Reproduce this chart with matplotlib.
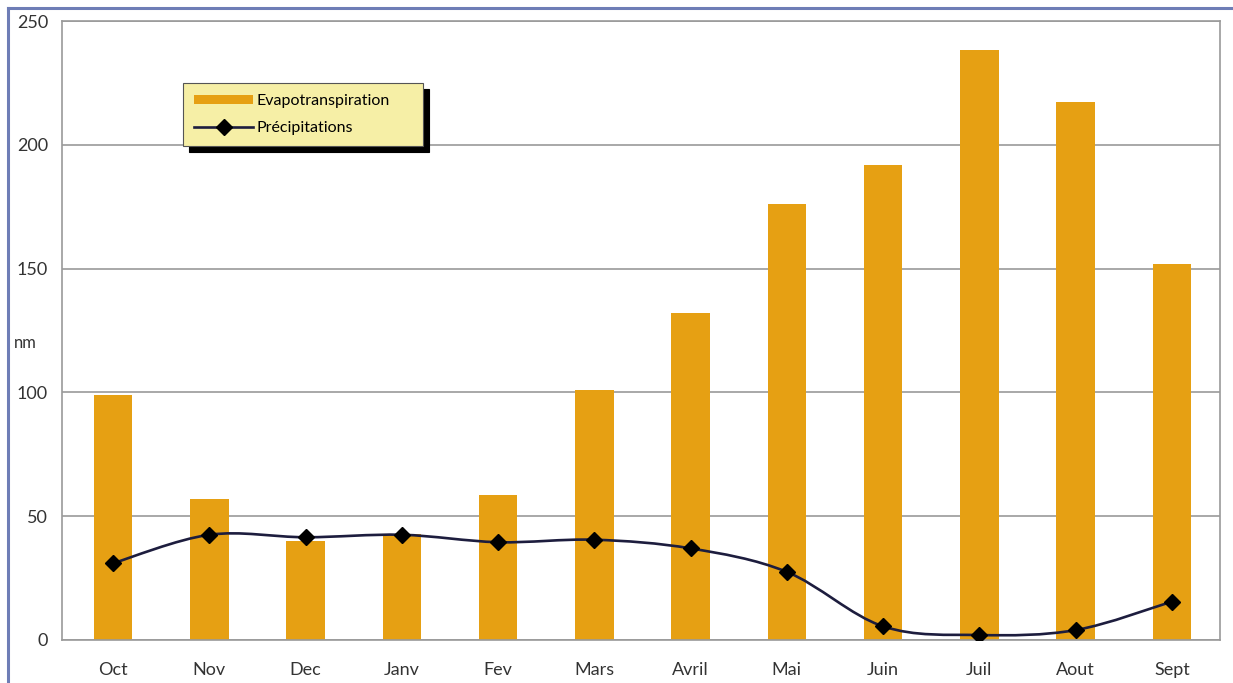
import matplotlib
matplotlib.use("Agg")
import matplotlib.pyplot as plt
from matplotlib.path import Path
from matplotlib.patches import PathPatch, Patch
from matplotlib.lines import Line2D
import numpy as np

plt.rcParams['font.family'] = ['Lato', 'DejaVu Sans']

months = ["Oct", "Nov", "Dec", "Janv", "Fev", "Mars", "Avril", "Mai", "Juin", "Juil", "Aout", "Sept"]
evapo = [99, 57, 40, 43, 58.5, 101, 132, 176, 192, 238.5, 217.5, 152]
precip = [31, 42.5, 41.5, 42.5, 39.5, 40.5, 37, 27.5, 5.5, 2, 4, 15.5]
y_ticks = [0, 50, 100, 150, 200, 250]

bar_color = "#E6A013"
line_color = "#1D1D3E"
grid_color = "#9a9a9a"

fig = plt.figure(figsize=(12.33, 6.83), dpi=100)
ax = fig.add_axes([0.0503, 0.063, 0.9392, 0.906])

x = np.arange(len(months))
ax.bar(x, evapo, width=0.4, color=bar_color, zorder=2)

# smooth line through the points (catmull-rom as cubic bezier)
pts = np.column_stack([x, precip]).astype(float)
verts = [tuple(pts[0])]
codes = [Path.MOVETO]
n = len(pts)
for i in range(n - 1):
    p0 = pts[max(i - 1, 0)]
    p1 = pts[i]
    p2 = pts[i + 1]
    p3 = pts[min(i + 2, n - 1)]
    c1 = p1 + (p2 - p0) / 6.0
    c2 = p2 - (p3 - p1) / 6.0
    verts += [tuple(c1), tuple(c2), tuple(p2)]
    codes += [Path.CURVE4] * 3
ax.add_patch(PathPatch(Path(verts, codes), facecolor="none", edgecolor=line_color,
                       lw=1.9, zorder=3))
ax.plot(x, precip, linestyle="none", marker="D", markersize=8.5, color="black", zorder=4)

ax.set_xlim(-0.53, 11.5)
ax.set_ylim(0, 250)
ax.set_yticks(y_ticks)
ax.set_xticks(x)
ax.set_xticklabels(months)
ax.tick_params(axis="both", length=0, labelsize=13, labelcolor="#333333")
ax.tick_params(axis="x", pad=16)
ax.tick_params(axis="y", pad=10)
ax.yaxis.grid(True, color=grid_color, lw=1.2)
ax.set_axisbelow(True)
for s in ax.spines.values():
    s.set_color(grid_color)
    s.set_linewidth(1.2)

fig.text(0.011, 0.498, "nm", fontsize=12, color="#333333", va="center", ha="left")

handles = [Patch(facecolor=bar_color, edgecolor="none", label="Evapotranspiration"),
           Line2D([], [], color=line_color, lw=1.9, marker="D", markersize=8,
                  markerfacecolor="black", markeredgecolor="black", label="Précipitations")]
leg = ax.legend(handles=handles, loc="upper left", bbox_to_anchor=(0.1045, 0.80, 0.2075, 0.10),
                mode="expand", fontsize=11.5, frameon=True, fancybox=False, handlelength=3.7,
                handleheight=0.55, borderpad=0.7, labelspacing=0.8, handletextpad=0.2,
                borderaxespad=0,
                shadow={"ox": 4, "oy": -4, "facecolor": "black", "edgecolor": "black", "alpha": 1})
leg.get_frame().set_facecolor("#F6EFA6")
leg.get_frame().set_edgecolor("#555555")
leg.get_frame().set_alpha(1)
leg.get_frame().set_linewidth(0.8)

# blue scan border
fig.add_artist(Line2D([0.0065, 0.0065], [0, 0.988], color="#6E7DB6", lw=2.2))
fig.add_artist(Line2D([0.0065, 1], [0.988, 0.988], color="#6E7DB6", lw=2.2))

fig.savefig("out.png", dpi=100)
